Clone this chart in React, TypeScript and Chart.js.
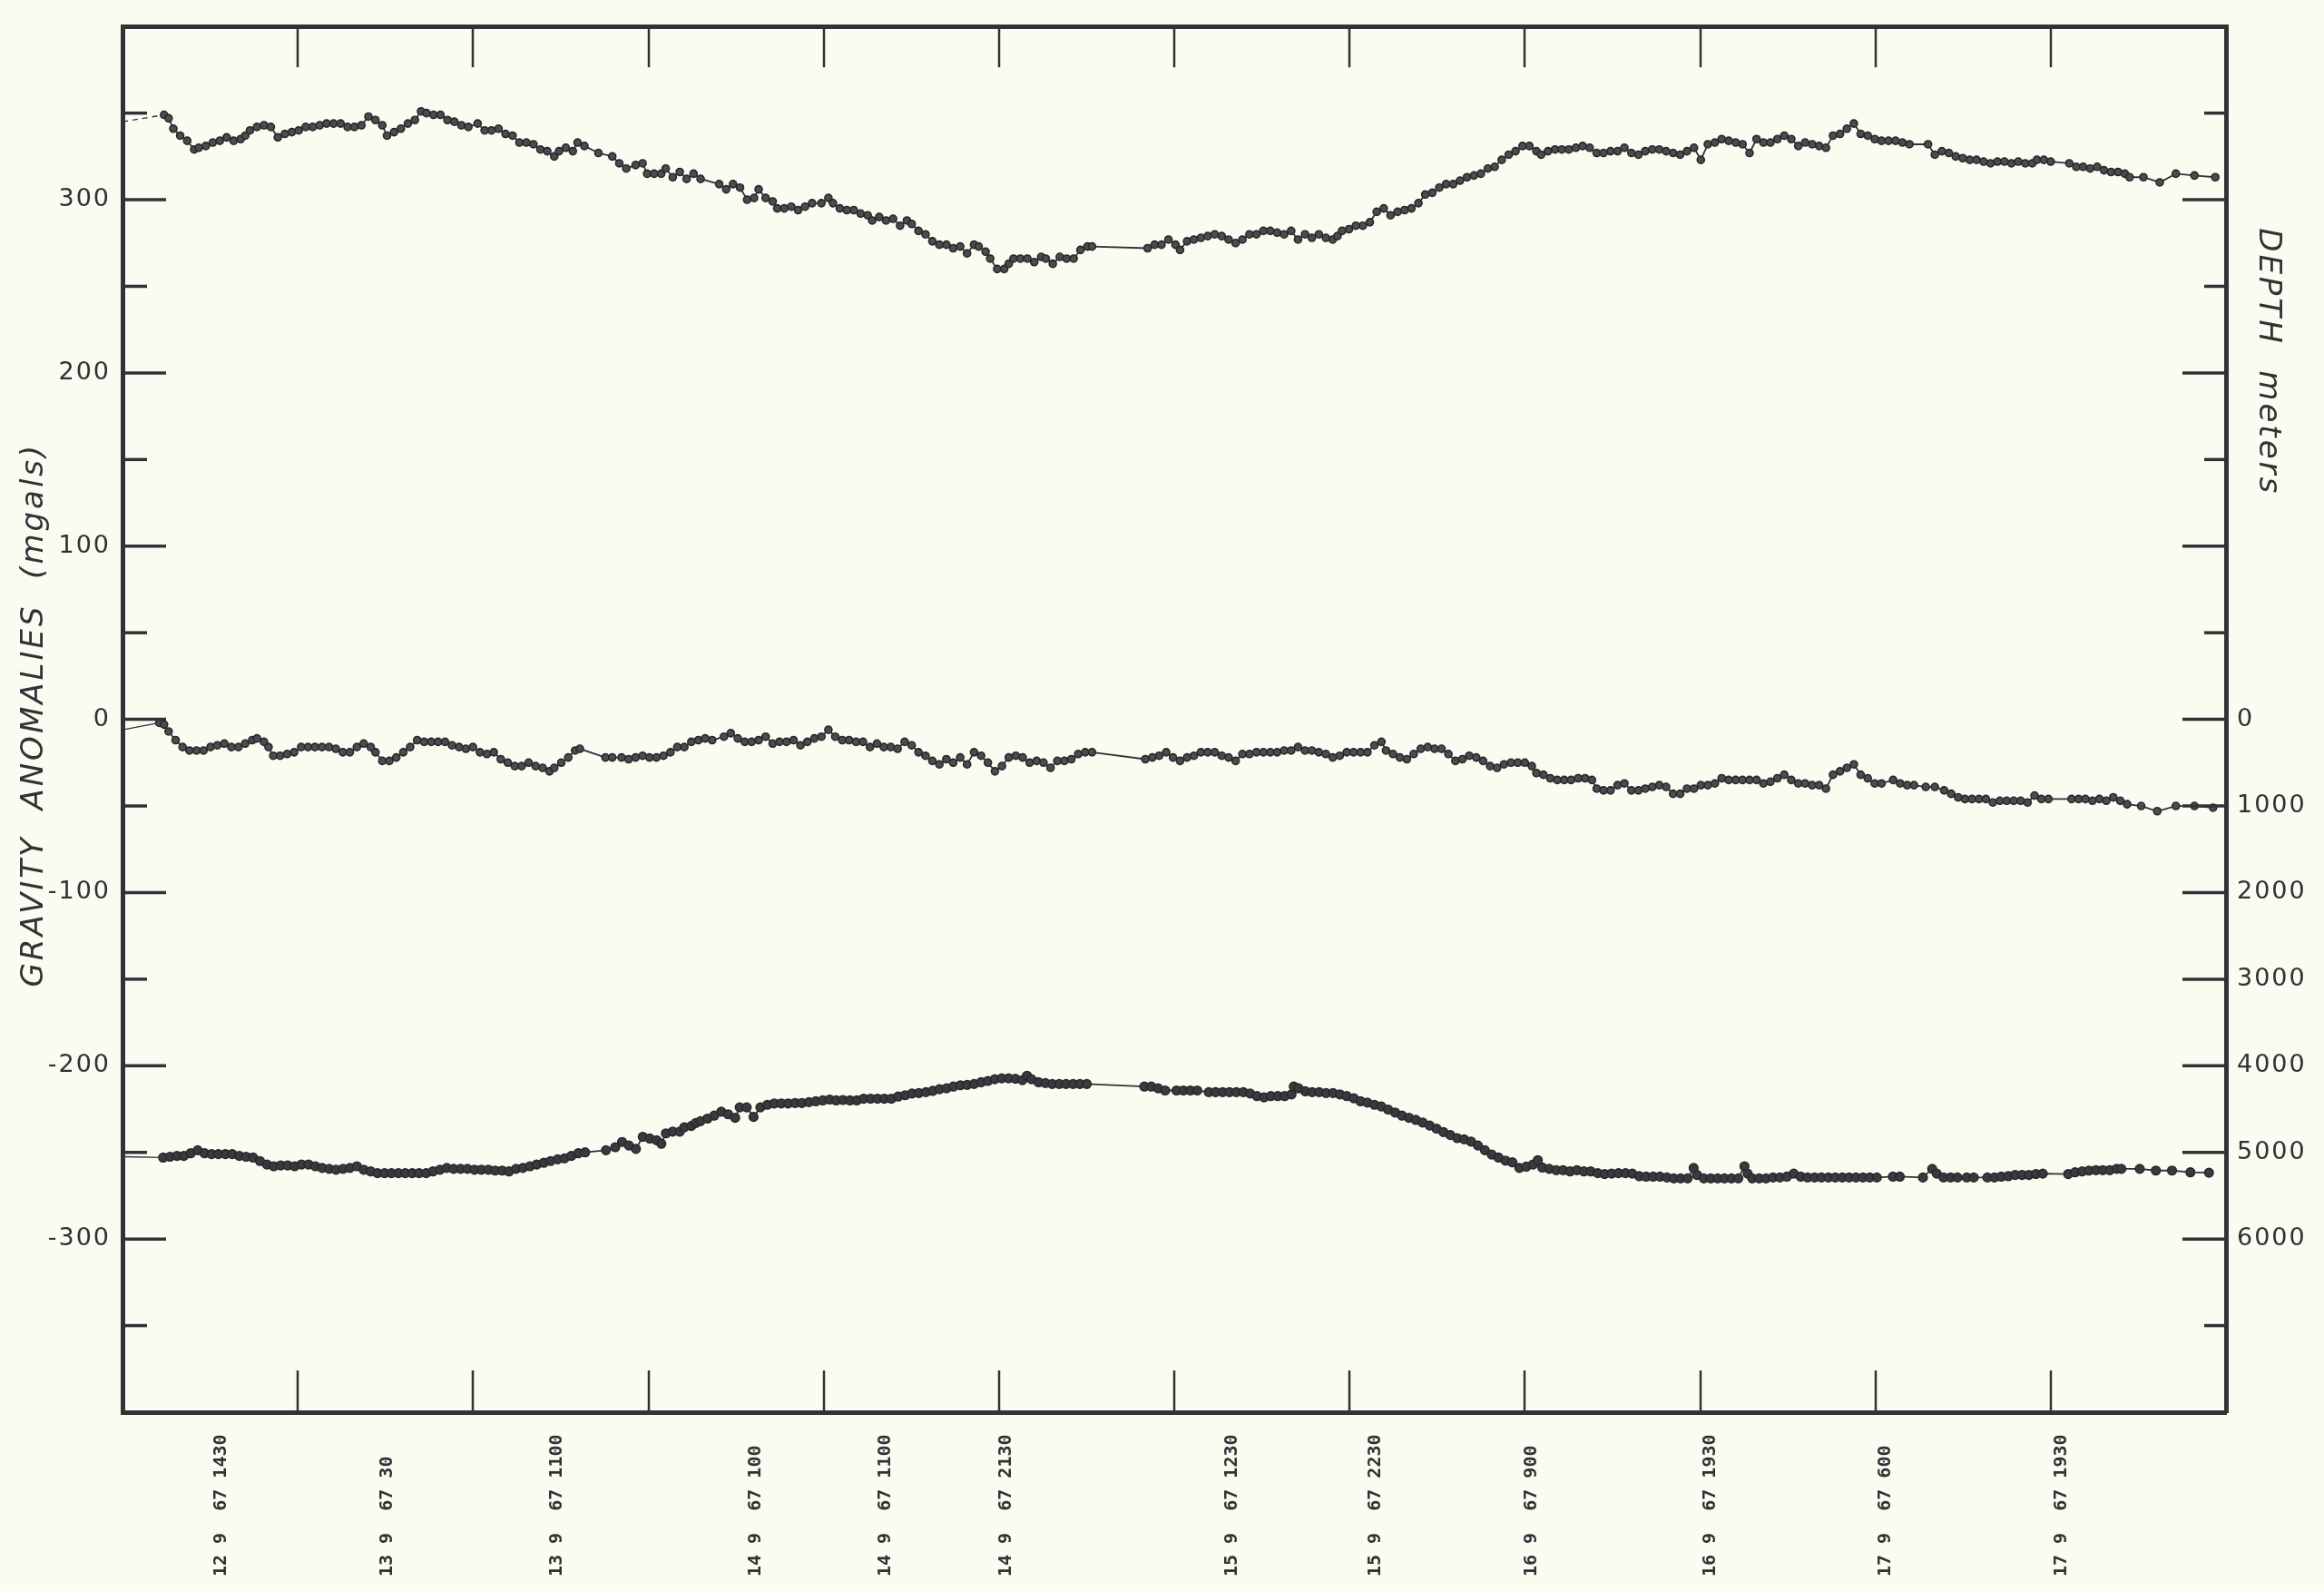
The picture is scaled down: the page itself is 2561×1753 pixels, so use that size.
import React, { useEffect, useRef } from 'react';
import { Chart, registerables } from 'chart.js';

Chart.register(...registerables);

const W = 2561;
const H = 1753;
const INK = '#303235';
const PAPER = '#fcfbf1';

// Distance along track (one unit per tick interval) vs. value
// Upper gravity anomaly profile (mgals)
const upperAnomaly: [number, number][] = [
  [0, 345], [0.237, 349], [0.263, 347], [0.29, 341], [0.329, 337], [0.369, 334], [0.409, 329], [0.435, 330],
  [0.475, 331], [0.515, 333], [0.555, 334], [0.594, 336], [0.634, 334], [0.674, 335], [0.7, 337], [0.727, 340],
  [0.767, 342], [0.807, 343], [0.846, 342], [0.886, 336], [0.926, 338], [0.966, 339], [1.005, 340], [1.045, 342],
  [1.085, 342], [1.125, 343], [1.164, 344], [1.204, 344], [1.244, 344], [1.284, 342], [1.323, 342], [1.363, 343],
  [1.403, 348], [1.443, 346], [1.482, 343], [1.509, 337], [1.549, 339], [1.588, 341], [1.628, 344], [1.668, 346],
  [1.703, 351], [1.734, 350], [1.774, 349], [1.814, 349], [1.854, 346], [1.893, 345], [1.933, 343], [1.973, 342],
  [2.026, 344], [2.066, 340], [2.105, 340], [2.145, 341], [2.185, 338], [2.225, 337], [2.264, 333], [2.304, 333],
  [2.344, 332], [2.384, 329], [2.423, 328], [2.463, 325], [2.49, 328], [2.529, 330], [2.569, 328], [2.596, 333],
  [2.635, 331], [2.715, 327], [2.794, 325], [2.834, 321], [2.874, 318], [2.927, 320], [2.967, 321], [2.993, 315],
  [3.033, 315], [3.073, 315], [3.099, 318], [3.139, 313], [3.179, 316], [3.218, 312], [3.258, 315], [3.298, 312],
  [3.404, 309], [3.444, 306], [3.483, 309], [3.523, 307], [3.563, 300], [3.603, 301], [3.629, 306], [3.669, 301],
  [3.709, 299], [3.735, 295], [3.775, 295], [3.815, 296], [3.854, 294], [3.894, 296], [3.934, 298], [3.987, 298],
  [4.027, 301], [4.053, 298], [4.092, 295], [4.132, 294], [4.172, 294], [4.211, 292], [4.251, 291], [4.277, 288],
  [4.317, 290], [4.356, 288], [4.396, 289], [4.436, 285], [4.475, 288], [4.502, 286], [4.541, 282], [4.581, 280],
  [4.62, 276], [4.66, 274], [4.7, 274], [4.739, 272], [4.779, 273], [4.818, 269], [4.858, 274], [4.884, 273],
  [4.924, 270], [4.95, 266], [4.99, 260], [5.03, 260], [5.056, 263], [5.083, 266], [5.122, 266], [5.162, 266],
  [5.201, 264], [5.241, 267], [5.267, 266], [5.307, 263], [5.347, 267], [5.386, 266], [5.426, 266], [5.465, 271],
  [5.505, 273], [5.531, 273], [5.848, 272], [5.888, 274], [5.927, 274], [5.967, 277], [6.007, 274], [6.033, 271],
  [6.073, 276], [6.112, 277], [6.152, 278], [6.191, 279], [6.231, 280], [6.271, 279], [6.31, 277], [6.35, 275],
  [6.389, 277], [6.429, 280], [6.469, 280], [6.508, 282], [6.548, 282], [6.587, 281], [6.627, 280], [6.667, 282],
  [6.706, 277], [6.746, 280], [6.785, 278], [6.825, 280], [6.865, 278], [6.904, 277], [6.931, 279], [6.957, 282],
  [6.997, 283], [7.036, 285], [7.076, 285], [7.116, 287], [7.155, 293], [7.195, 295], [7.234, 291], [7.274, 293],
  [7.314, 294], [7.353, 295], [7.393, 298], [7.432, 303], [7.472, 304], [7.512, 307], [7.551, 309], [7.591, 309],
  [7.63, 311], [7.67, 313], [7.71, 314], [7.749, 315], [7.789, 318], [7.828, 319], [7.868, 323], [7.908, 326],
  [7.947, 328], [7.987, 331], [8.026, 331], [8.066, 328], [8.093, 326], [8.132, 328], [8.172, 329], [8.211, 329],
  [8.251, 329], [8.291, 330], [8.33, 331], [8.37, 330], [8.41, 327], [8.449, 327], [8.489, 328], [8.529, 328],
  [8.568, 330], [8.608, 327], [8.648, 326], [8.687, 328], [8.727, 329], [8.767, 329], [8.806, 328], [8.846, 327],
  [8.886, 326], [8.925, 328], [8.965, 330], [9.004, 323], [9.044, 332], [9.084, 333], [9.123, 335], [9.163, 334],
  [9.203, 333], [9.242, 332], [9.282, 327], [9.322, 335], [9.361, 333], [9.401, 333], [9.441, 335], [9.48, 337],
  [9.52, 335], [9.56, 331], [9.599, 333], [9.639, 332], [9.679, 331], [9.718, 330], [9.758, 337], [9.798, 338],
  [9.837, 341], [9.877, 344], [9.916, 338], [9.956, 337], [9.996, 335], [10.035, 334], [10.075, 334], [10.115, 334],
  [10.154, 333], [10.194, 332], [10.3, 332], [10.339, 326], [10.379, 328], [10.419, 327], [10.458, 325],
  [10.498, 324], [10.538, 323], [10.577, 323], [10.617, 322], [10.657, 321], [10.696, 322], [10.736, 322],
  [10.776, 321], [10.815, 322], [10.855, 321], [10.895, 321], [10.921, 323], [10.961, 323], [11.0, 322],
  [11.106, 321], [11.146, 319], [11.185, 319], [11.225, 318], [11.265, 319], [11.304, 317], [11.344, 316],
  [11.384, 316], [11.423, 315], [11.45, 313], [11.529, 313], [11.622, 310], [11.714, 315], [11.82, 314], [11.939, 313],
];

// Middle gravity anomaly profile (mgals)
const middleAnomaly: [number, number][] = [
  [0, -6], [0.21, -2], [0.237, -3], [0.263, -7], [0.303, -12], [0.343, -16], [0.382, -18], [0.422, -18],
  [0.462, -18], [0.502, -16], [0.541, -15], [0.581, -14], [0.621, -16], [0.661, -16], [0.7, -14], [0.74, -12],
  [0.767, -11], [0.807, -13], [0.833, -16], [0.86, -21], [0.899, -21], [0.939, -20], [0.979, -19], [1.019, -16],
  [1.058, -16], [1.098, -16], [1.138, -16], [1.178, -16], [1.217, -17], [1.257, -19], [1.297, -19], [1.337, -16],
  [1.376, -14], [1.416, -16], [1.443, -19], [1.482, -24], [1.522, -24], [1.562, -22], [1.602, -19], [1.641, -16],
  [1.681, -12], [1.721, -13], [1.761, -13], [1.8, -13], [1.84, -13], [1.88, -15], [1.92, -16], [1.959, -17],
  [1.999, -16], [2.039, -19], [2.079, -20], [2.118, -19], [2.158, -23], [2.198, -25], [2.238, -27], [2.277, -27],
  [2.317, -25], [2.357, -27], [2.397, -28], [2.436, -30], [2.463, -28], [2.503, -25], [2.543, -22], [2.582, -18],
  [2.609, -17], [2.755, -22], [2.794, -22], [2.847, -22], [2.887, -23], [2.927, -22], [2.967, -21], [3.006, -22],
  [3.046, -22], [3.086, -21], [3.126, -19], [3.165, -16], [3.205, -16], [3.245, -13], [3.285, -12], [3.324, -11],
  [3.364, -12], [3.431, -10], [3.47, -8], [3.51, -11], [3.55, -13], [3.589, -13], [3.629, -12], [3.669, -10],
  [3.709, -14], [3.748, -13], [3.788, -13], [3.828, -12], [3.868, -15], [3.907, -13], [3.947, -11], [3.987, -10],
  [4.027, -6], [4.066, -10], [4.106, -12], [4.145, -12], [4.185, -13], [4.224, -13], [4.264, -16], [4.304, -14],
  [4.343, -16], [4.383, -16], [4.422, -17], [4.462, -13], [4.502, -15], [4.541, -19], [4.581, -21], [4.62, -24],
  [4.66, -26], [4.7, -23], [4.739, -25], [4.779, -22], [4.818, -26], [4.858, -19], [4.898, -21], [4.937, -25],
  [4.977, -30], [5.017, -27], [5.056, -22], [5.096, -21], [5.135, -22], [5.175, -25], [5.215, -24], [5.254, -25],
  [5.294, -28], [5.333, -24], [5.373, -24], [5.413, -23], [5.452, -20], [5.492, -19], [5.531, -19], [5.835, -23],
  [5.875, -22], [5.914, -21], [5.954, -19], [5.993, -22], [6.033, -24], [6.073, -22], [6.112, -21], [6.152, -19],
  [6.191, -19], [6.231, -19], [6.271, -21], [6.31, -22], [6.35, -24], [6.389, -20], [6.429, -20], [6.469, -19],
  [6.508, -19], [6.548, -19], [6.587, -19], [6.627, -18], [6.667, -18], [6.706, -16], [6.746, -18], [6.785, -18],
  [6.825, -19], [6.865, -20], [6.904, -22], [6.944, -21], [6.984, -19], [7.023, -19], [7.063, -19], [7.102, -19],
  [7.142, -15], [7.182, -13], [7.208, -18], [7.248, -20], [7.287, -22], [7.327, -23], [7.366, -20], [7.406, -17],
  [7.446, -16], [7.485, -17], [7.525, -17], [7.564, -20], [7.604, -24], [7.644, -23], [7.683, -21], [7.723, -22],
  [7.762, -24], [7.802, -27], [7.842, -28], [7.881, -26], [7.921, -25], [7.96, -25], [8.0, -25], [8.04, -27],
  [8.066, -31], [8.106, -32], [8.145, -34], [8.185, -35], [8.225, -35], [8.264, -35], [8.304, -34], [8.344, -34],
  [8.383, -35], [8.41, -40], [8.449, -41], [8.489, -41], [8.529, -38], [8.568, -37], [8.608, -41], [8.648, -41],
  [8.687, -40], [8.727, -39], [8.767, -38], [8.806, -39], [8.846, -43], [8.886, -43], [8.925, -40], [8.965, -40],
  [9.004, -38], [9.044, -38], [9.084, -37], [9.123, -34], [9.163, -35], [9.203, -35], [9.242, -35], [9.282, -35],
  [9.322, -35], [9.361, -37], [9.401, -36], [9.441, -34], [9.48, -32], [9.52, -35], [9.56, -37], [9.599, -37],
  [9.639, -38], [9.679, -38], [9.718, -40], [9.758, -32], [9.798, -30], [9.837, -28], [9.877, -26], [9.916, -32],
  [9.956, -34], [9.996, -37], [10.035, -37], [10.101, -35], [10.141, -37], [10.181, -38], [10.22, -38],
  [10.287, -39], [10.339, -39], [10.392, -41], [10.432, -43], [10.472, -45], [10.511, -46], [10.551, -46],
  [10.591, -46], [10.63, -46], [10.67, -48], [10.71, -47], [10.749, -47], [10.789, -47], [10.829, -47],
  [10.868, -48], [10.908, -44], [10.947, -46], [10.987, -46], [11.119, -46], [11.159, -46], [11.198, -46],
  [11.238, -47], [11.278, -46], [11.317, -47], [11.357, -45], [11.397, -47], [11.436, -49], [11.516, -50],
  [11.608, -53], [11.714, -50], [11.82, -50], [11.926, -51],
];

// Water depth profile (meters, right axis)
const depthProfile: [number, number][] = [
  [0, 5050], [0.232, 5060], [0.271, 5050], [0.311, 5040], [0.35, 5040], [0.389, 5010], [0.429, 4975], [0.468, 5010],
  [0.508, 5020], [0.547, 5020], [0.587, 5020], [0.626, 5020], [0.666, 5040], [0.705, 5050], [0.745, 5060],
  [0.784, 5100], [0.824, 5140], [0.863, 5160], [0.903, 5150], [0.942, 5150], [0.982, 5160], [1.021, 5140],
  [1.061, 5140], [1.1, 5160], [1.139, 5180], [1.179, 5190], [1.218, 5200], [1.258, 5190], [1.297, 5180],
  [1.337, 5160], [1.376, 5200], [1.416, 5220], [1.455, 5240], [1.495, 5240], [1.534, 5240], [1.574, 5240],
  [1.613, 5240], [1.653, 5240], [1.692, 5240], [1.732, 5240], [1.771, 5220], [1.811, 5200], [1.85, 5180],
  [1.889, 5190], [1.929, 5190], [1.968, 5190], [2.008, 5200], [2.047, 5200], [2.087, 5200], [2.126, 5210],
  [2.166, 5210], [2.205, 5220], [2.245, 5190], [2.284, 5180], [2.324, 5160], [2.363, 5140], [2.403, 5120],
  [2.442, 5100], [2.482, 5080], [2.521, 5070], [2.561, 5040], [2.6, 5010], [2.639, 5000], [2.758, 4975],
  [2.811, 4940], [2.85, 4880], [2.889, 4920], [2.929, 4960], [2.968, 4820], [3.008, 4840], [3.047, 4860],
  [3.074, 4900], [3.1, 4780], [3.139, 4760], [3.179, 4760], [3.205, 4710], [3.245, 4695], [3.271, 4660],
  [3.297, 4640], [3.337, 4610], [3.376, 4575], [3.416, 4530], [3.455, 4560], [3.495, 4600], [3.521, 4480],
  [3.561, 4480], [3.6, 4590], [3.639, 4480], [3.679, 4450], [3.718, 4435], [3.758, 4435], [3.797, 4435],
  [3.837, 4430], [3.876, 4430], [3.916, 4420], [3.955, 4410], [3.995, 4400], [4.034, 4390], [4.071, 4400],
  [4.11, 4395], [4.15, 4400], [4.189, 4400], [4.228, 4380], [4.268, 4380], [4.307, 4380], [4.346, 4380],
  [4.386, 4380], [4.425, 4355], [4.465, 4340], [4.504, 4320], [4.543, 4315], [4.583, 4305], [4.622, 4290],
  [4.661, 4270], [4.701, 4260], [4.74, 4240], [4.78, 4225], [4.819, 4220], [4.858, 4210], [4.898, 4190],
  [4.937, 4175], [4.976, 4155], [5.016, 4145], [5.055, 4145], [5.094, 4150], [5.134, 4165], [5.16, 4115],
  [5.186, 4155], [5.226, 4190], [5.265, 4200], [5.304, 4210], [5.344, 4210], [5.383, 4210], [5.423, 4210],
  [5.462, 4210], [5.501, 4210], [5.829, 4240], [5.869, 4240], [5.908, 4260], [5.948, 4285], [6.013, 4285],
  [6.052, 4285], [6.092, 4285], [6.131, 4285], [6.197, 4305], [6.236, 4305], [6.276, 4305], [6.315, 4305],
  [6.354, 4305], [6.394, 4305], [6.433, 4320], [6.472, 4350], [6.512, 4365], [6.551, 4350], [6.591, 4350],
  [6.63, 4350], [6.669, 4330], [6.682, 4240], [6.709, 4260], [6.748, 4295], [6.787, 4305], [6.827, 4305],
  [6.866, 4315], [6.906, 4315], [6.945, 4330], [6.984, 4350], [7.024, 4375], [7.063, 4410], [7.102, 4425],
  [7.142, 4450], [7.181, 4470], [7.22, 4505], [7.26, 4540], [7.299, 4575], [7.339, 4600], [7.378, 4625],
  [7.417, 4655], [7.457, 4690], [7.496, 4725], [7.535, 4765], [7.575, 4800], [7.614, 4835], [7.654, 4850],
  [7.693, 4875], [7.732, 4920], [7.772, 4975], [7.811, 5025], [7.85, 5060], [7.89, 5095], [7.929, 5115],
  [7.969, 5180], [8.008, 5165], [8.047, 5140], [8.074, 5090], [8.1, 5175], [8.139, 5190], [8.179, 5205],
  [8.218, 5205], [8.258, 5220], [8.297, 5205], [8.337, 5220], [8.376, 5220], [8.416, 5240], [8.455, 5250],
  [8.495, 5245], [8.534, 5240], [8.574, 5240], [8.613, 5245], [8.653, 5275], [8.692, 5280], [8.732, 5280],
  [8.771, 5280], [8.811, 5290], [8.85, 5300], [8.889, 5300], [8.929, 5300], [8.963, 5180], [8.982, 5260],
  [9.021, 5300], [9.061, 5300], [9.1, 5300], [9.139, 5300], [9.179, 5300], [9.218, 5300], [9.253, 5160],
  [9.271, 5245], [9.297, 5300], [9.337, 5300], [9.376, 5300], [9.416, 5290], [9.455, 5290], [9.495, 5280],
  [9.534, 5245], [9.574, 5280], [9.613, 5290], [9.653, 5290], [9.692, 5290], [9.732, 5290], [9.771, 5290],
  [9.811, 5290], [9.85, 5290], [9.889, 5290], [9.929, 5290], [9.968, 5290], [10.008, 5290], [10.1, 5280],
  [10.139, 5280], [10.271, 5290], [10.324, 5190], [10.35, 5245], [10.389, 5290], [10.429, 5290], [10.468, 5290],
  [10.521, 5290], [10.561, 5290], [10.639, 5290], [10.679, 5290], [10.718, 5280], [10.758, 5275], [10.797, 5260],
  [10.837, 5260], [10.876, 5260], [10.916, 5250], [10.955, 5245], [11.1, 5250], [11.139, 5230], [11.179, 5220],
  [11.218, 5210], [11.258, 5205], [11.297, 5205], [11.337, 5205], [11.376, 5190], [11.403, 5190], [11.508, 5190],
  [11.6, 5210], [11.692, 5210], [11.797, 5230], [11.903, 5235],
];

// Time marks along the track (day month year hhmm)
const timeMarkPositions = [0.565, 1.51, 2.48, 3.61, 4.355, 5.04, 6.33, 7.15, 8.04, 9.06, 10.06, 11.06];
const timeMarkLabels = [
  '12 9  67 1430', '13 9  67 30', '13 9  67 1100', '14 9  67 100', '14 9  67 1100', '14 9  67 2130',
  '15 9  67 1230', '15 9  67 2230', '16 9  67 900', '16 9  67 1930', '17 9  67 600', '17 9  67 1930',
];

const leftTitle = 'GRAVITY  ANOMALIES  (mgals)';
const rightTitle = 'DEPTH  meters';

const toXY = (arr: [number, number][]) => arr.map(([x, y]) => ({ x, y }));

// all tick values of a linear scale, from its own min/max/stepSize (edges excluded)
const innerSteps = (scale: any): number[] => {
  const step = scale.options.ticks.stepSize;
  const out: number[] = [];
  for (let v = scale.min + step; v < scale.max - step / 2; v += step) out.push(Math.round(v));
  return out;
};

const paperAndMarks = {
  id: 'paperAndMarks',
  beforeDraw(chart: any) {
    const { ctx } = chart;
    ctx.save();
    ctx.fillStyle = PAPER;
    ctx.fillRect(0, 0, chart.width, chart.height);
    ctx.restore();
    ctx.letterSpacing = '2px';
  },
  afterDraw(chart: any) {
    const { ctx, chartArea: a, scales } = chart;
    const sx = scales.x;
    const sy = scales.y;
    const sy2 = scales.y2;
    ctx.save();
    ctx.letterSpacing = '0px';
    ctx.strokeStyle = INK;
    ctx.lineCap = 'butt';
    const seg = (x1: number, y1: number, x2: number, y2: number) => {
      ctx.beginPath();
      ctx.moveTo(x1, y1);
      ctx.lineTo(x2, y2);
      ctx.stroke();
    };
    // inward ticks on top and bottom edges
    ctx.lineWidth = 2.5;
    for (const v of innerSteps(sx)) {
      const px = Math.round(sx.getPixelForValue(v));
      seg(px, a.top, px, a.top + 45);
      seg(px, a.bottom, px, a.bottom - 46);
    }
    // left axis ticks: long at labelled 100s, short at 50s
    ctx.lineWidth = 3.5;
    for (const v of innerSteps(sy)) {
      const py = sy.getPixelForValue(v);
      const len = v % 100 === 0 ? 48 : 27;
      seg(a.left, py, a.left + len, py);
    }
    // right axis ticks
    for (const d of innerSteps(sy2)) {
      const py = sy2.getPixelForValue(d);
      const len = (d >= 0 && d <= 6000) || d % 2000 === 0 ? 48 : 24;
      seg(a.right - len, py, a.right, py);
    }

    // time labels under the x axis
    ctx.fillStyle = INK;
    ctx.font = 'bold 20px "DejaVu Sans Mono"';
    ctx.textAlign = 'left';
    ctx.textBaseline = 'middle';
    timeMarkPositions.forEach((u, i) => {
      const px = sx.getPixelForValue(u);
      ctx.save();
      ctx.translate(px, a.bottom + 181);
      ctx.rotate(-Math.PI / 2);
      ctx.fillText(timeMarkLabels[i], 0, 0);
      ctx.restore();
    });

    // axis titles
    ctx.font = 'italic 34px "DejaVu Sans"';
    ctx.textBaseline = 'alphabetic';
    ctx.save();
    ctx.letterSpacing = '3px';
    ctx.translate(a.left - 88, (a.top + a.bottom) / 2 - 5);
    ctx.rotate(-Math.PI / 2);
    ctx.textAlign = 'center';
    ctx.fillText(leftTitle, 0, 0);
    ctx.restore();

    ctx.save();
    ctx.letterSpacing = '3px';
    ctx.translate(a.right + 37, a.top + 222);
    ctx.rotate(Math.PI / 2);
    ctx.textAlign = 'left';
    ctx.fillText(rightTitle, 0, 0);
    ctx.restore();

    ctx.restore();
  },
};

function profileDataset(label: string, data: [number, number][], axis: string, dashedLead: boolean, radius: number, fill: string) {
  return {
    label,
    data: toXY(data),
    yAxisID: axis,
    borderColor: INK,
    borderWidth: 1.8,
    tension: 0,
    pointRadius: (ctx: any) => (ctx.dataIndex === 0 ? 0 : radius),
    pointBackgroundColor: fill,
    pointBorderColor: '#26282b',
    pointBorderWidth: 1.6,
    segment: {
      borderDash: (ctx: any) => (dashedLead && ctx.p0DataIndex === 0 ? [6, 5] : undefined),
      borderWidth: (ctx: any) => (ctx.p0DataIndex === 0 ? 1.3 : undefined),
    },
  };
}

export default function App() {
  const canvasRef = useRef<HTMLCanvasElement | null>(null);

  useEffect(() => {
    const canvas = canvasRef.current;
    if (!canvas) return;
    const labelFont = { family: 'DejaVu Sans', size: 27 };
    const chart = new Chart(canvas, {
      type: 'line',
      data: {
        datasets: [
          profileDataset('Gravity anomaly (upper profile)', upperAnomaly, 'y', true, 4, '#4a4c4f'),
          profileDataset('Gravity anomaly (middle profile)', middleAnomaly, 'y', false, 4, '#4a4c4f'),
          profileDataset('Depth', depthProfile, 'y2', false, 4.8, '#383a3d'),
        ],
      },
      options: {
        animation: false,
        responsive: false,
        devicePixelRatio: 1,
        events: [],
        layout: { padding: 0 },
        plugins: { legend: { display: false }, tooltip: { enabled: false }, title: { display: false } },
        scales: {
          x: {
            type: 'linear',
            position: 'bottom',
            min: 0,
            max: 12,
            ticks: { display: false, stepSize: 1 },
            grid: { display: false, drawTicks: false },
            border: { display: true, color: INK, width: 5 },
            afterFit: (s: any) => { s.height = 197; },
          },
          xTop: {
            type: 'linear',
            position: 'top',
            min: 0,
            max: 12,
            ticks: { display: false, stepSize: 1 },
            grid: { display: false, drawTicks: false },
            border: { display: true, color: INK, width: 5 },
            afterFit: (s: any) => { s.height = 15; },
          },
          y: {
            type: 'linear',
            position: 'left',
            min: -400,
            max: 400,
            ticks: {
              stepSize: 50,
              autoSkip: false,
              padding: 13,
              color: INK,
              font: labelFont,
              callback: (v: any) => (v % 100 === 0 && Math.abs(v) <= 300 ? String(v) : null),
            },
            grid: { display: false, drawTicks: false },
            border: { display: true, color: INK, width: 5 },
            afterFit: (s: any) => { s.width = 135; },
          },
          y2: {
            type: 'linear',
            position: 'right',
            min: -8000,
            max: 8000,
            reverse: true,
            ticks: {
              stepSize: 1000,
              autoSkip: false,
              padding: 12,
              color: INK,
              font: labelFont,
              callback: (v: any) => (v >= 0 && v <= 6000 ? String(v) : null),
            },
            grid: { display: false, drawTicks: false },
            border: { display: true, color: INK, width: 5 },
            afterFit: (s: any) => { s.width = 108; },
          },
        },
      } as any,
      plugins: [paperAndMarks],
    });
    return () => chart.destroy();
  }, []);

  return (
    <div style={{ position: 'absolute', left: 0, top: 0, width: W, height: H, background: PAPER, overflow: 'hidden' }}>
      <canvas ref={canvasRef} width={W} height={H} style={{ display: 'block', width: W, height: H }} />
    </div>
  );
}
